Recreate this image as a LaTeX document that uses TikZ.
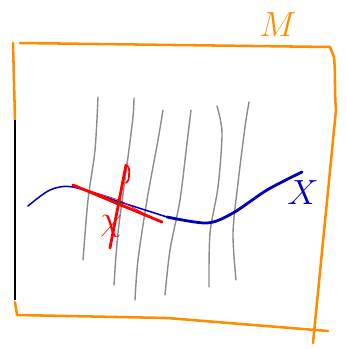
\documentclass[tikz,border=0pt]{standalone}
\begin{document}
\begin{tikzpicture}[x=0.025cm, y=-0.025cm,
    frame/.style={orange!90!yellow, line width=1.8pt, line cap=round, line join=round},
    fiber/.style={gray!90, line width=1pt, line cap=round},
    curve/.style={blue!75!black, line cap=round}]
    \useasboundingbox (0,0) rectangle (347,349);
    % manifold frame
    \draw[frame] (13,43) -- (15,120);
    \draw[black, line width=1.2pt] (15,120) -- (15,300);
    \draw[frame] (20,43) -- (330,47) -- (334,57) to[out=-85,in=95] (336,110) -- (313,343);
    \draw[frame] (15,302) -- (17,315) -- (167,318) -- (328,331);
    % fibers
    \draw[fiber] plot[smooth] coordinates {(98,97) (95,150) (88,200) (83,260)};
    \draw[fiber] plot[smooth] coordinates {(134,98) (133,117) (128,157) (118,233) (114,285)};
    \draw[fiber] plot[smooth] coordinates {(163,110) (158,140) (147,200) (138,260) (135,300)};
    \draw[fiber] plot[smooth] coordinates {(191,110) (187,143) (180,200) (170,250) (165,295)};
    \draw[fiber] plot[smooth] coordinates {(217,106) (222,133) (218,187) (210,233) (209,287)};
    \draw[fiber] plot[smooth] coordinates {(249,102) (245,127) (238,183) (233,233) (236,280)};
    % submanifold
    \draw[curve, line width=1.1pt] plot[smooth] coordinates {(28,206) (50,190) (73,187) (120,202) (167,217)};
    \draw[curve, line width=2pt] plot[smooth] coordinates {(167,217) (207,223) (233,213) (267,190) (302,172)};
    % tangent and normal
    \draw[red, line width=2pt, line cap=round] (73,185) -- (162,222);
    \draw[red, line width=0.5pt] (78,187) -- (119,200) -- (145,214) -- (120,206) -- cycle;
    \draw[red, line width=2pt, line cap=round] (110,248) -- (126,165);
    \draw[red, line width=1.2pt, line cap=round] (126,165) to[out=-20,in=90] (129,176) to[out=-90,in=30] (126,183);
    \fill[green!50!black] (119,203) circle (1.6);
    % labels
    \node[orange!90!yellow, font=\fontsize{34}{34}\selectfont] (lblM) at (278,25) {$M$};
    \node[blue!75!black, font=\fontsize{30}{30}\selectfont] (lblX) at (303,193) {$X$};
    \node[red, font=\fontsize{24}{24}\selectfont] (lblx) at (111,226) {$\chi$};
\end{tikzpicture}
\end{document}
